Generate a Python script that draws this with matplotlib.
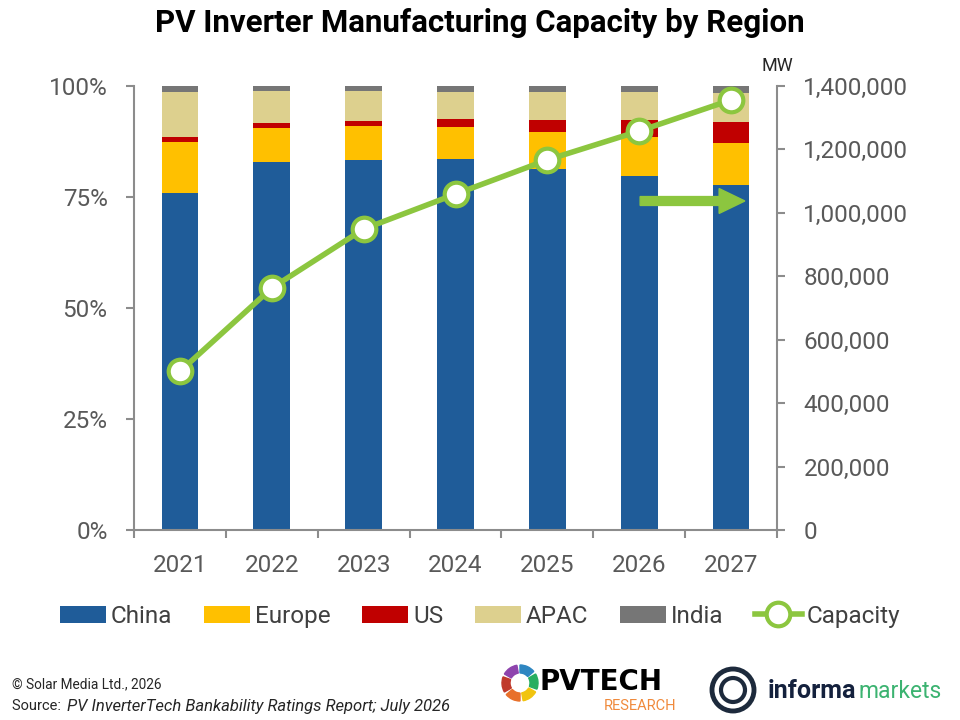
"""
PV inverter manufacturing capacity by region, share + total MW
"""

import numpy as np
import matplotlib.pyplot as plt
from matplotlib.patches import Wedge, Circle, FancyArrow

years = ['2021', '2022', '2023', '2024', '2025', '2026', '2027']

# share of capacity, %
china  = [75.8, 82.8, 83.3, 83.5, 81.2, 79.8, 77.8]
europe = [11.5,  7.8,  7.8,  7.3,  8.4,  8.8,  9.4]
us     = [ 1.3,  1.0,  1.0,  1.8,  2.7,  3.7,  4.6]
apac   = [10.0,  7.3,  6.8,  6.0,  6.3,  6.3,  6.7]
india  = [ 1.4,  1.1,  1.1,  1.4,  1.4,  1.4,  1.5]

# total capacity, MW
capacity = [500000, 763000, 949000, 1059000, 1167000, 1258000, 1356000]

regions = ['China', 'Europe', 'US', 'APAC', 'India']
colors = ['#1f5c99', '#ffc000', '#c00000', '#ddd08e', '#767676']
line_col = '#8cc63f'
grey = '#595959'
spine_col = '#8c8c8c'

plt.rcParams['font.family'] = ['Roboto', 'DejaVu Sans']

fig = plt.figure(figsize=(9.6, 7.2), dpi=100)
ax = fig.add_axes([134/960, 190/720, 643/960, 444/720])

x = np.arange(len(years))
bottom = np.zeros(len(years))
handles = []
for name, vals, c in zip(regions, [china, europe, us, apac, india], colors):
    b = ax.bar(x, vals, width=0.4, bottom=bottom, color=c, label=name, zorder=2)
    handles.append(b)
    bottom = bottom + np.array(vals)

ax.set_xlim(-0.5, 6.5)
ax.set_ylim(0, 100)
ax.set_yticks([0, 25, 50, 75, 100])
ax.set_yticklabels(['0%', '25%', '50%', '75%', '100%'])
ax.set_xticks(x)
ax.set_xticklabels(years)
ax.set_xticks(np.arange(-0.5, 7, 1), minor=True)
ax.tick_params(axis='x', which='major', length=0, pad=17, labelsize=17.5, labelcolor=grey)
ax.tick_params(axis='x', which='minor', length=6, width=1.5, color=spine_col)
ax.tick_params(axis='y', length=6, width=1.5, color=spine_col, pad=13, labelsize=17.5, labelcolor=grey)
for s in ['top', 'right']:
    ax.spines[s].set_visible(False)
for s in ['left', 'bottom']:
    ax.spines[s].set_color(spine_col)
    ax.spines[s].set_linewidth(1.5)

ax2 = ax.twinx()
ax2.set_ylim(0, 1400000)
ax2.set_yticks(np.arange(0, 1400001, 200000))
ax2.set_yticklabels(['{:,}'.format(v) for v in range(0, 1400001, 200000)])
ax2.tick_params(axis='y', length=6, width=1.5, color=spine_col, pad=13, labelsize=17.5, labelcolor=grey)
for s in ['top', 'left', 'bottom']:
    ax2.spines[s].set_visible(False)
ax2.spines['right'].set_color(spine_col)
ax2.spines['right'].set_linewidth(1.5)
ln, = ax2.plot(x, capacity, color=line_col, lw=4, marker='o', markersize=17,
               markerfacecolor='white', markeredgecolor=line_col, markeredgewidth=3,
               label='Capacity', zorder=3)
ax2.text(1.0, 1.025, 'MW', transform=ax.transAxes, ha='center', va='bottom',
         fontsize=13, color='#262626')

# arrow pointing to the right axis
ax.add_patch(FancyArrow(5.01, 74.1, 1.14, 0, width=2.0, head_width=5.6,
                        head_length=0.28, length_includes_head=True,
                        color=line_col, zorder=4))

fig.text(0.5, 0.968, 'PV Inverter Manufacturing Capacity by Region', ha='center',
         va='center', fontsize=22.5, fontweight='bold')

fig.legend(handles + [ln], regions + ['Capacity'], loc='center', ncol=6,
           bbox_to_anchor=(0.5, 0.1444), frameon=False, fontsize=17.5,
           handlelength=1.9, handletextpad=0.2, columnspacing=1.3,
           labelcolor='#404040')

fig.text(12/960, 1 - 684/720, '\u00a9 Solar Media Ltd., 2026', fontsize=9.8,
         va='center', color='#262626')
fig.text(12/960, 1 - 706/720, 'Source: ', fontsize=10.5, va='center', color='#262626')
fig.text(67/960, 1 - 706/720, 'PV InverterTech Bankability Ratings Report; July 2026',
         fontsize=12, va='center', style='italic', color='#262626')

# logos (rough)
lg = fig.add_axes([0, 0, 1, 1], zorder=-1)
lg.set_xlim(0, 960)
lg.set_ylim(720, 0)
lg.axis('off')
ring = ['#e8702a', '#c0392b', '#8e44ad', '#2e86c1', '#27ae60', '#f1c40f']
for i, c in enumerate(ring):
    lg.add_patch(Wedge((520, 683), 18, 90 + i * 60, 140 + i * 60, width=8, color=c))
lg.text(539, 682, 'PVTECH', fontsize=20, fontweight='bold', color='black',
        va='center', ha='left', family=['DejaVu Sans'])
lg.text(676, 706, 'RESEARCH', fontsize=10.5, color='#f08a3c', va='center', ha='right')
lg.add_patch(Circle((733, 690), 21, fill=False, lw=3.5, ec='#1d2a3c'))
lg.add_patch(Circle((733, 690), 12, fill=False, lw=3, ec='#1d2a3c'))
lg.text(768, 691, 'informa', fontsize=18, fontweight='bold', color='#14213d', va='center')
lg.text(858, 691, 'markets', fontsize=16.5, color='#3cb371', va='center')

plt.savefig('out.png', dpi=100)
